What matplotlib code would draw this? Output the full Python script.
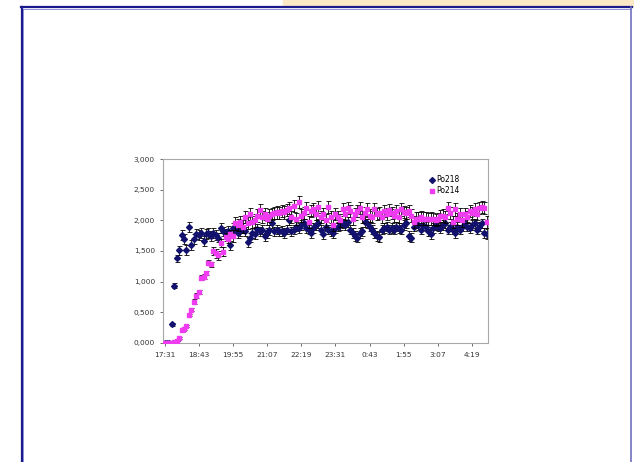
import numpy as np
import matplotlib.pyplot as plt
from matplotlib.lines import Line2D
from matplotlib.patches import Rectangle

# etykiety osi czasu (co 14 pomiarow)
time_labels = ['17:31', '18:43', '19:55', '21:07', '22:19',
               '23:31', '0:43', '1:55', '3:07', '4:19']
label_step = 14

# Po218
po218 = [0.00, 0.00, 0.00, 0.30, 0.93, 1.38, 1.51, 1.76, 1.69, 1.52,
         1.89, 1.60, 1.70, 1.78, 1.76, 1.80, 1.66, 1.78, 1.79, 1.74,
         1.80, 1.76, 1.72, 1.87, 1.82, 1.78, 1.83, 1.59, 1.88, 1.85,
         1.80, 1.83, 1.88, 1.82, 1.65, 1.72, 1.80, 1.78, 1.86, 1.82,
         1.85, 1.74, 1.80, 1.84, 1.95, 1.82, 1.85, 1.82, 1.83, 1.80,
         1.85, 2.00, 1.82, 1.85, 1.90, 1.88, 1.92, 1.95, 1.88, 1.85,
         1.80, 1.88, 1.92, 1.95, 1.85, 1.78, 1.90, 1.85, 1.82, 1.80,
         1.88, 1.90, 1.92, 1.95, 1.92, 1.98, 1.85, 1.80, 1.75, 1.72,
         1.80, 1.82, 1.98, 1.95, 1.90, 1.85, 1.80, 1.75, 1.73, 1.85,
         1.88, 1.90, 1.85, 1.88, 1.85, 1.90, 1.88, 1.85, 1.92, 1.95,
         1.75, 1.72, 1.90, 1.95, 1.93, 1.85, 1.92, 1.90, 1.82, 1.78,
         1.88, 1.92, 1.90, 1.88, 1.92, 1.95, 1.85, 1.90, 1.85, 1.80,
         1.90, 1.85, 1.90, 1.95, 1.90, 1.88, 1.92, 1.95, 1.85, 1.90,
         1.95, 1.80, 1.78]

# Po214
po214 = [0.00, 0.00, 0.00, 0.00, 0.01, 0.03, 0.08, 0.20, 0.22, 0.27,
         0.45, 0.54, 0.67, 0.77, 0.83, 1.06, 1.08, 1.14, 1.31, 1.28,
         1.50, 1.46, 1.43, 1.63, 1.49, 1.73, 1.70, 1.78, 1.75, 1.95,
         1.92, 1.98, 1.90, 2.05, 1.96, 2.10, 1.98, 2.00, 2.08, 2.17,
         2.05, 2.10, 2.03, 2.08, 2.10, 2.12, 2.13, 2.12, 2.15, 2.13,
         2.17, 2.20, 2.05, 2.24, 2.02, 2.30, 2.08, 2.12, 2.20, 1.97,
         2.15, 2.18, 2.10, 2.22, 2.05, 2.10, 2.00, 2.22, 2.05, 1.93,
         2.10, 2.05, 2.00, 2.18, 2.10, 2.20, 2.15, 2.02, 2.10, 2.15,
         2.20, 2.05, 2.12, 2.18, 2.08, 2.05, 2.18, 2.10, 2.12, 2.05,
         2.15, 2.10, 2.17, 2.12, 2.08, 2.15, 2.05, 2.18, 2.14, 2.12,
         2.15, 2.08, 1.98, 2.03, 2.03, 2.05, 2.03, 2.03, 2.02, 2.03,
         2.02, 2.01, 2.02, 2.07, 2.08, 2.05, 2.20, 2.12, 1.98, 2.18,
         2.02, 2.10, 2.00, 2.10, 2.05, 2.15, 2.12, 2.18, 2.10, 2.20,
         2.22, 2.20, 1.98]

# niepewnosci pomiarowe
err218 = [0.0, 0.0, 0.0, 0.02, 0.04, 0.06, 0.07] + [0.08] * 126
err214 = [0.0] * 6 + [0.02] * 6 + [0.04] * 8 + [0.07] * 8 + [0.10] * 105

fig = plt.figure(figsize=(6.34, 4.62), dpi=100)

# ramka slajdu
fig.patches.append(Rectangle((283 / 634, 456 / 462), 351 / 634, 6 / 462,
                             transform=fig.transFigure, color='#fbe8c6', zorder=0))
fig.add_artist(Line2D([21.8 / 634, 21.8 / 634], [0, 455 / 462], color='#1a1a8c', lw=1.6,
                      transform=fig.transFigure))
fig.add_artist(Line2D([23.3 / 634, 23.3 / 634], [0, 453.5 / 462], color='#8080d0', lw=0.6,
                      transform=fig.transFigure))
fig.add_artist(Line2D([21 / 634, 631.5 / 634], [455 / 462, 455 / 462], color='#1a1a8c', lw=1.6,
                      transform=fig.transFigure))
fig.add_artist(Line2D([23 / 634, 631 / 634], [453.5 / 462, 453.5 / 462], color='#8080d0', lw=0.6,
                      transform=fig.transFigure))
fig.add_artist(Line2D([631 / 634, 631 / 634], [0, 455 / 462], color='#7070c0', lw=1.2,
                      transform=fig.transFigure))

ax = fig.add_axes([163.3 / 634, 119.3 / 462, 324.7 / 634, 183.4 / 462])

x = np.arange(len(po218))
ax.errorbar(x, po218, yerr=err218, fmt='D', color='#12126e', ms=3.0,
            ecolor='black', elinewidth=0.6, capsize=1.8, capthick=0.6,
            label='Po218', zorder=2)
ax.errorbar(x, po214, yerr=err214, fmt='s', color='#f03cf0', ms=3.2,
            ecolor='black', elinewidth=0.6, capsize=1.8, capthick=0.6,
            label='Po214', zorder=3)

ax.set_xlim(-0.5, len(po218) - 0.5)
ax.set_ylim(0, 3)
ax.set_xticks(np.arange(len(time_labels)) * label_step)
ax.set_xticklabels(time_labels)
yt = np.arange(0, 3.01, 0.5)
ax.set_yticks(yt)
ax.set_yticklabels([('%.3f' % v).replace('.', ',') for v in yt])

for s in ax.spines.values():
    s.set_color('#a8a8a8')
    s.set_linewidth(0.8)
ax.tick_params(labelsize=5.3, colors='#333333', length=2, width=0.5, pad=4)
ax.tick_params(axis='x', pad=5)

h, l = ax.get_legend_handles_labels()
h = [hh[0] for hh in h]
ax.legend(h, l, loc='upper right', bbox_to_anchor=(0.935, 0.95), frameon=False,
          fontsize=5.5, handlelength=0.6, handletextpad=0.3, labelspacing=0.25)

fig.savefig('out.png', dpi=100)
